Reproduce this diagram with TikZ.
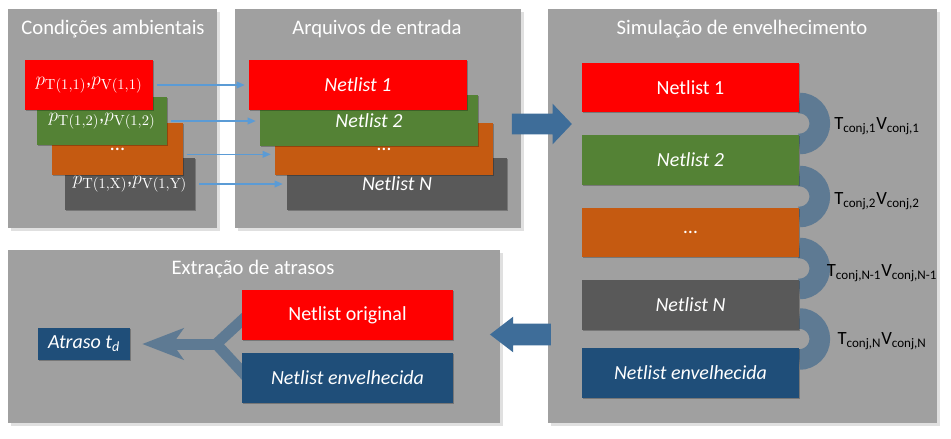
\documentclass[tikz,border=0pt]{standalone}
\usepackage[no-math]{fontspec}
\setmainfont{Carlito}
\usetikzlibrary{arrows.meta,shapes.arrows,shadows,calc}
\definecolor{panelgray}{HTML}{A0A0A0}
\definecolor{bred}{HTML}{FF0000}
\definecolor{bgreen}{HTML}{548235}
\definecolor{borange}{HTML}{C55A11}
\definecolor{bgray}{HTML}{595959}
\definecolor{bblue}{HTML}{1F4E79}
\definecolor{bigarrow}{HTML}{3E6D99}
\definecolor{ringcol}{HTML}{5E7A93}
\definecolor{thinarrow}{HTML}{5B9BD5}
\newcommand{\pxu}{*0.75pt}
\pgfdeclarelayer{bg}\pgfdeclarelayer{mid}\pgfsetlayers{bg,mid,main}
\begin{document}
\begin{tikzpicture}[x=0.75pt,y=-0.75pt,
  panel/.style={fill=panelgray, inner sep=0pt, draw=none,
    drop shadow={shadow xshift=2pt, shadow yshift=-2pt, opacity=0.12, fill=black}},
  title/.style={text=white, font=\fontsize{15.5}{18}\selectfont, inner sep=0pt},
  box/.style={inner sep=0pt, text=white, font=\fontsize{15}{18}\selectfont,
    drop shadow={shadow xshift=0.8pt, shadow yshift=-0.8pt, opacity=0.25, fill=black}},
  mbox/.style={box, font=\fontsize{15.5}{17}\selectfont},
  ring/.style={draw=ringcol, line width=15.5pt},
  rlabel/.style={text=black, font=\fontsize{14}{16}\selectfont, inner sep=0pt},
  thinarr/.style={draw=thinarrow, line width=1pt, -{Triangle[length=6pt,width=5pt]}, shorten <=3pt, shorten >=3pt},
  bigarr/.style={single arrow, fill=bigarrow, inner xsep=0pt, inner ysep=7.5pt},
  yline/.style={draw=ringcol, line width=8.25pt, line join=round},
]
\begin{pgfonlayer}{bg}
\fill[white] (0,0) rectangle (951,439);
\node[panel, minimum width=209\pxu, minimum height=219\pxu] (P1) at (112.5,118.5) {};
\node[panel, minimum width=286\pxu, minimum height=219\pxu] (P2) at (378,118.5) {};
\node[panel, minimum width=389\pxu, minimum height=414\pxu] (P3) at (742.5,216) {};
\node[panel, minimum width=492\pxu, minimum height=173\pxu] (P4) at (254,336.5) {};
\end{pgfonlayer}
\useasboundingbox (0,0) rectangle (951,439);

% titles
\node[title] (t1) at (113,29) {Condições ambientais};
\node[title] (t2) at (377,29) {Arquivos de entrada};
\node[title] (t3) at (742,29) {Simulação de envelhecimento};
\node[title] (t4) at (253,269) {Extração de atrasos};

% panel 1 boxes (back to front)
\node[mbox, fill=bgray,   minimum width=130\pxu, minimum height=52\pxu] (c4) at (130,184) {$p_{\mathrm{T}(1,\mathrm{X})}$,$p_{\mathrm{V}(1,\mathrm{Y})}$};
\node[mbox, fill=borange, minimum width=131\pxu, minimum height=52\pxu] (c3) at (117.5,149) {\ldots};
\node[mbox, fill=bgreen,  minimum width=130\pxu, minimum height=48\pxu] (c2) at (102,121) {$p_{\mathrm{T}(1,2)}$,$p_{\mathrm{V}(1,2)}$};
\node[mbox, fill=bred,    minimum width=128\pxu, minimum height=50\pxu] (c1) at (89,85) {$p_{\mathrm{T}(1,1)}$,$p_{\mathrm{V}(1,1)}$};

% panel 2 boxes
\node[box, fill=bgray,   minimum width=220\pxu, minimum height=52\pxu] (a4) at (397,184) {\itshape Netlist N};
\node[box, fill=borange, minimum width=218\pxu, minimum height=52\pxu] (a3) at (384,149) {\ldots};
\node[box, fill=bgreen,  minimum width=218\pxu, minimum height=51\pxu] (a2) at (369,120.5) {\itshape Netlist 2};
\node[box, fill=bred,    minimum width=218\pxu, minimum height=50\pxu] (a1) at (358,85) {\itshape Netlist 1};

% thin arrows
\draw[thinarr] (c1.east) -- (c1.east -| a1.west);
\draw[thinarr] (c2.east) -- (c2.east -| a2.west);
\draw[thinarr] ([yshift=-4pt]c3.east) -- ([yshift=-4pt]c3.east -| a3.west);
\draw[thinarr] (c4.east) -- (c4.east -| a4.west);

% panel 3 boxes
\node[box, fill=bred,    minimum width=217\pxu, minimum height=49\pxu] (s1) at (690.5,87.5) {Netlist 1};
\node[box, fill=bgreen,  minimum width=217\pxu, minimum height=50\pxu] (s2) at (690.5,160) {\itshape Netlist 2};
\node[box, fill=borange, minimum width=217\pxu, minimum height=49\pxu] (s3) at (690.5,232.5) {\ldots};
\node[box, fill=bgray,   minimum width=217\pxu, minimum height=50\pxu] (s4) at (690.5,305) {\itshape Netlist N};
\node[box, fill=bblue,   minimum width=217\pxu, minimum height=50\pxu] (s5) at (690.5,373) {\itshape Netlist envelhecida};

% rings
\coordinate (r1) at ($(s1.south east)!0.5!(s2.north east)$);
\coordinate (r2) at ($(s2.south east)!0.5!(s3.north east)$);
\coordinate (r3) at ($(s3.south east)!0.5!(s4.north east)$);
\coordinate (r4) at ($(s4.south east)!0.5!(s5.north east)$);
\begin{pgfonlayer}{mid}
\draw[ring] ($(r1)+(0,20.5)$) arc[start angle=90,end angle=-90,radius=20.5];
\draw[ring] ($(r2)+(0,20.5)$) arc[start angle=90,end angle=-90,radius=20.5];
\draw[ring] ($(r3)+(0,20.5)$) arc[start angle=90,end angle=-90,radius=20.5];
\draw[ring] ($(r4)+(0,20.5)$) arc[start angle=90,end angle=-90,radius=20.5];
\end{pgfonlayer}
\node[rlabel] (l1) at (877,126) {T\textsubscript{conj,1}V\textsubscript{conj,1}};
\node[rlabel] (l2) at (877,201) {T\textsubscript{conj,2}V\textsubscript{conj,2}};
\node[rlabel] (l3) at (882,273) {T\textsubscript{conj,N-1}V\textsubscript{conj,N-1}};
\node[rlabel] (l4) at (882,341) {T\textsubscript{conj,N}V\textsubscript{conj,N}};

% panel 4 boxes
\node[box, fill=bblue, minimum width=92\pxu,  minimum height=32\pxu] (td) at (84,344) {\itshape Atraso t\textsubscript{d}};
\node[box, fill=bred,  minimum width=211\pxu, minimum height=50\pxu] (o1) at (347.5,315) {Netlist original};
\node[box, fill=bblue, minimum width=211\pxu, minimum height=50\pxu] (o2) at (347.5,378) {\itshape Netlist envelhecida};

% Y arrow
\coordinate (j) at ($(td.east)+(86,0)$);
\begin{pgfonlayer}{mid}
\draw[yline] ($(o1.west)+(6,0)$) -- (j) -- ($(o2.west)+(6,0)$);
\draw[yline, -{Stealth[length=30.75pt,width=23.25pt,inset=8pt]}, shorten >=9pt] (j) -- (td.east);
\end{pgfonlayer}

% big arrows
\node[bigarr, minimum height=60\pxu, single arrow head extend=10\pxu, single arrow tip angle=93] (A1) at (537,124) {};
\node[bigarr, minimum height=61\pxu, single arrow head extend=7\pxu, single arrow tip angle=75, shape border rotate=180, inner ysep=7.9pt] (A2) at (527.5,334.5) {};
\end{tikzpicture}
\end{document}
